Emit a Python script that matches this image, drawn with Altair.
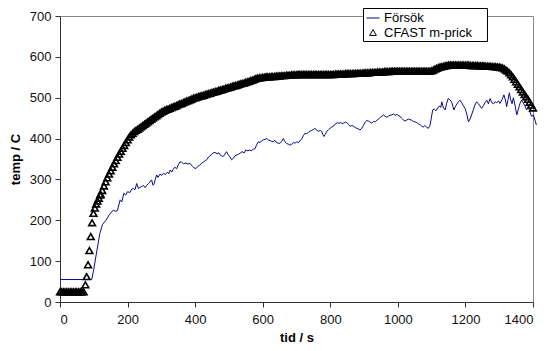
import altair as alt
import pandas as pd

# ---- Försök (measured) ----
forsok_t = [0, 94, 100, 108, 118, 126, 136, 147, 158, 165, 170, 178, 183, 189, 195, 200, 207, 212, 217, 222,
            227, 232, 240, 247, 252, 257, 262, 266, 271, 275, 278, 282, 286, 290, 296, 301, 306, 312, 318, 322,
            326, 331, 335, 340, 345, 350, 355, 360, 366, 372, 378, 385, 392, 397, 403, 408, 414, 420, 427, 434,
            440, 447, 453, 459, 465, 470, 474, 478, 483, 488, 493, 498, 503, 508, 513, 518, 524, 529, 533, 539,
            545, 550, 556, 561, 566, 572, 577, 582, 587, 592, 597, 602, 607, 612, 617, 622, 627, 631, 636, 641,
            646, 651, 656, 661, 666, 671, 676, 681, 686, 691, 696, 701, 706, 711, 716, 721, 725, 730, 735, 740,
            745, 750, 755, 760, 765, 770, 775, 778, 781, 785, 790, 795, 799, 804, 809, 815, 821, 826, 831, 835,
            840, 845, 849, 854, 859, 864, 869, 874, 879, 884, 888, 893, 898, 903, 908, 913, 918, 923, 928, 933,
            938, 943, 948, 953, 957, 962, 967, 972, 977, 982, 987, 992, 997, 1002, 1006, 1011, 1016, 1021, 1026, 1031,
            1036, 1041, 1046, 1051, 1056, 1061, 1066, 1071, 1075, 1080, 1085, 1090, 1095, 1099, 1103, 1108, 1113, 1118, 1123, 1127,
            1130, 1135, 1140, 1144, 1149, 1154, 1159, 1163, 1166, 1170, 1175, 1179, 1184, 1189, 1194, 1199, 1204, 1209, 1214, 1219,
            1224, 1228, 1233, 1238, 1243, 1248, 1253, 1258, 1263, 1268, 1273, 1278, 1283, 1288, 1293, 1298, 1302, 1308, 1314, 1319,
            1322, 1326, 1330, 1334, 1338, 1342, 1347, 1352, 1356, 1361, 1366, 1371, 1376, 1381, 1386, 1391, 1396, 1401, 1406, 1410]
forsok_v = [55, 55, 80, 120, 168, 190, 200, 215, 225, 222, 224, 250, 245, 266, 262, 270, 268, 276, 278, 275,
            290, 278, 282, 285, 280, 286, 290, 294, 299, 286, 288, 300, 311, 305, 313, 310, 315, 312, 318, 314,
            323, 318, 325, 330, 326, 336, 343, 342, 338, 340, 338, 339, 332, 328, 327, 332, 335, 340, 344, 348,
            355, 360, 365, 366, 363, 365, 360, 358, 356, 362, 368, 360, 355, 348, 352, 358, 360, 362, 364, 368,
            365, 372, 370, 372, 370, 374, 375, 385, 392, 390, 395, 397, 398, 400, 396, 395, 393, 392, 396, 390,
            389, 388, 393, 400, 392, 388, 386, 384, 386, 390, 389, 392, 390, 395, 400, 408, 413, 412, 415, 418,
            420, 422, 425, 420, 418, 420, 417, 410, 405, 410, 418, 422, 425, 428, 430, 436, 439, 437, 440, 436,
            438, 440, 439, 435, 430, 432, 430, 427, 425, 423, 421, 425, 432, 440, 444, 443, 440, 438, 442, 441,
            445, 448, 452, 455, 458, 455, 452, 455, 457, 458, 460, 457, 459, 456, 455, 450, 446, 443, 445, 448,
            446, 445, 442, 441, 439, 436, 434, 430, 428, 432, 428, 425, 432, 450, 470, 472, 468, 475, 480, 476,
            490, 475, 470, 485, 498, 495, 490, 478, 470, 478, 485, 490, 494, 488, 480, 474, 460, 441, 448, 460,
            472, 482, 490, 486, 480, 474, 480, 488, 494, 485, 498, 488, 485, 490, 488, 492, 486, 495, 507, 492,
            478, 495, 512, 495, 485, 500, 480, 458, 470, 485, 494, 488, 480, 470, 478, 465, 454, 458, 445, 433]

# ---- CFAST m-prick (model) ----
cfast_t = list(range(0, 75, 5)) + list(range(75, 120, 4)) + list(range(120, 1401, 5))
cfast_v = (
    [25] * 15
    + [42, 62, 91, 126, 160, 194, 217, 230, 240, 247, 254, 262]
    # 120 .. 195
    + [264, 273, 284, 294, 304, 313, 321, 330, 338, 346, 354, 362, 369, 376, 383, 390]
    # 200 .. 295
    + [397, 404, 409, 413, 417, 420, 423, 426, 429, 432, 435, 438, 441, 444, 447, 450, 453, 456, 459, 462]
    # 300 .. 395
    + [465, 467, 469, 471, 472, 474, 476, 478, 479, 481, 483, 485, 486, 488, 490, 492, 493, 495, 497, 499]
    # 400 .. 495
    + [500, 501, 503, 504, 505, 506, 508, 509, 510, 511, 513, 514, 515, 516, 518, 519, 520, 521, 523, 524]
    # 500 .. 595
    + [525, 526, 528, 529, 530, 531, 533, 534, 535, 536, 538, 539, 540, 542, 543, 545, 547, 548, 549, 549]
    # 600 .. 695
    + [550, 550, 551, 551, 551, 552, 552, 552, 553, 553, 553, 554, 554, 554, 555, 555, 555, 556, 556, 556]
    # 700 .. 795
    + [556, 557, 557, 557, 557, 557, 557, 557, 557, 557, 557, 557, 557, 557, 557, 557, 557, 557, 557, 557]
    # 800 .. 895
    + [557, 557, 557, 558, 558, 558, 558, 558, 558, 559, 559, 559, 559, 559, 559, 560, 560, 560, 560, 560]
    # 900 .. 995
    + [561, 561, 561, 561, 562, 562, 562, 562, 563, 563, 563, 563, 564, 564, 564, 564, 565, 565, 565, 565]
    # 1000 .. 1095
    + [565, 565, 565, 565, 565, 565, 565, 565, 565, 565, 565, 565, 565, 565, 565, 565, 565, 565, 565, 565]
    # 1100 .. 1195
    + [566, 568, 570, 572, 574, 575, 576, 577, 578, 579, 580, 580, 580, 580, 580, 580, 580, 580, 580, 580]
    # 1200 .. 1295
    + [580, 580, 580, 579, 579, 579, 579, 579, 578, 578, 578, 578, 577, 577, 577, 577, 576, 576, 576, 575]
    # 1300 .. 1400
    + [575, 574, 573, 571, 568, 565, 561, 556, 551, 545, 539, 533, 527, 520, 514, 508, 502, 496, 489, 482, 475]
)

series_names = ["Försök", "CFAST m-prick"]
x_ticks = [0, 200, 400, 600, 800, 1000, 1200, 1400]
y_ticks = [0, 100, 200, 300, 400, 500, 600, 700]

df_f = pd.DataFrame({"t": forsok_t, "v": forsok_v, "serie": "Försök"})
df_c = pd.DataFrame({"t": cfast_t, "v": cfast_v, "serie": "CFAST m-prick"})

FONT = "Liberation Sans"

x_enc = alt.X("t:Q", scale=alt.Scale(domain=[0, 1400], nice=False),
              axis=alt.Axis(values=x_ticks, title="tid / s", format="d"))
y_enc = alt.Y("v:Q", scale=alt.Scale(domain=[0, 700], nice=False),
              axis=alt.Axis(values=y_ticks, title="temp / C", format="d"))

color_scale = alt.Scale(domain=series_names, range=["#0a0a8a", "#000000"])
shape_scale = alt.Scale(domain=series_names, range=["stroke", "triangle-up"])
size_scale = alt.Scale(domain=series_names, range=[169, 45])

leg = alt.Legend(
    title=None, orient="none", legendX=303, legendY=-8,
    padding=3,
    labelFont=FONT, labelFontSize=13, labelColor="#000000",
    rowPadding=1, labelOffset=4, symbolStrokeWidth=1,
)

line = alt.Chart(df_f).mark_line(strokeWidth=1).encode(
    x=x_enc, y=y_enc,
    color=alt.Color("serie:N", scale=color_scale, legend=leg),
)

pts = alt.Chart(df_c).mark_point(filled=False, strokeWidth=1.6, opacity=1).encode(
    x=x_enc, y=y_enc,
    color=alt.Color("serie:N", scale=color_scale, legend=leg),
    shape=alt.Shape("serie:N", scale=shape_scale, legend=leg),
    size=alt.Size("serie:N", scale=size_scale, legend=leg),
)

# white framed box behind the legend entries
legend_box = alt.Chart(pd.DataFrame({"k": [0]})).mark_rect(
    fill="white", stroke="#000000", strokeWidth=1
).encode(
    x=alt.value(303.5), x2=alt.value(427.5), y=alt.value(-7.5), y2=alt.value(25.5)
)

chart = alt.layer(line, pts, legend_box).properties(
    width=473, height=286,
    autosize=alt.AutoSizeParams(type="none"),
    padding={"left": 52, "top": 8, "right": 9, "bottom": 41},
).configure_view(
    stroke="#888888", strokeWidth=1
).configure_axis(
    grid=False,
    domainColor="#333333",
    tickColor="#333333",
    tickSize=5,
    labelFont=FONT, labelFontSize=13, labelColor="#111111", labelPadding=4,
    titleFont=FONT, titleFontSize=13, titleFontWeight="bold", titleColor="#000000",
).configure_axisX(
    labelPadding=6, titlePadding=5,
).configure_axisY(
    titlePadding=7,
)

chart.save("out.html", embed_options={"renderer": "svg", "actions": False})
